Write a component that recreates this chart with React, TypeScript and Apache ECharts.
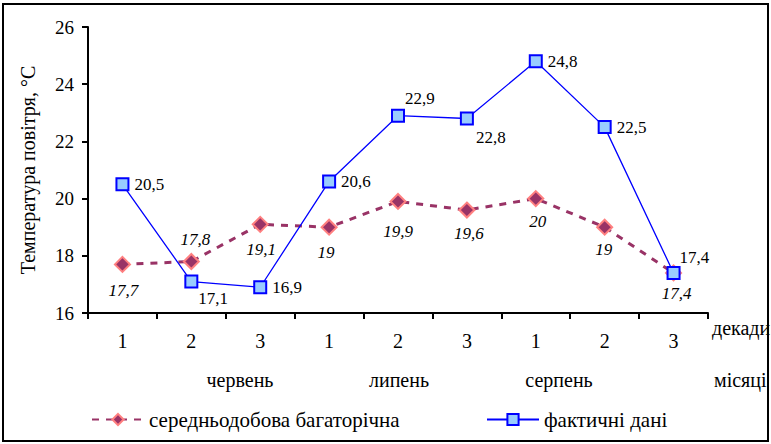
import React, { useEffect, useRef } from "react";
import * as echarts from "echarts";

const decades = ["1", "2", "3", "1", "2", "3", "1", "2", "3"];
const months = ["червень", "липень", "серпень"];
const averageValues = [17.7, 17.8, 19.1, 19, 19.9, 19.6, 20, 19, 17.4];
const actualValues = [20.5, 17.1, 16.9, 20.6, 22.9, 22.8, 24.8, 22.5, 17.4];
const yTicks = { min: 16, max: 26, interval: 2 };
const seriesNames = ["середньодобова багаторічна", "фактичні дані"];

const FONT = "'Liberation Serif', 'DejaVu Serif', 'Times New Roman', serif";
const fmt = (v: number) => String(v).replace(".", ",");

// label placement (style only)
const actualLabelStyle: any[] = [
  { position: "right", offset: [0, 0] },
  { position: "right", offset: [-5, 17] },
  { position: "right", offset: [0, 0] },
  { position: "right", offset: [0, 0] },
  { position: "right", offset: [-5, -17] },
  { position: "right", offset: [-3, 19] },
  { position: "right", offset: [0, 0] },
  { position: "right", offset: [0, 0] },
  { position: "right", offset: [-6, -15] },
];
const averageLabelStyle: any[] = [
  { position: "bottom", offset: [1, 4] },
  { position: "top", offset: [4, 0] },
  { position: "bottom", offset: [1, 3] },
  { position: "bottom", offset: [-3, 3] },
  { position: "bottom", offset: [0, 8] },
  { position: "bottom", offset: [2, 1] },
  { position: "bottom", offset: [2, 1] },
  { position: "bottom", offset: [-1, 0] },
  { position: "bottom", offset: [3, -1] },
];
const monthX = [240, 399, 559];

export default function App() {
  const ref = useRef<HTMLDivElement>(null);
  useEffect(() => {
    if (!ref.current) return;
    const chart = echarts.init(ref.current, null, { renderer: "svg" });
    const option: any = {
      animation: false,
      backgroundColor: "#ffffff",
      textStyle: { fontFamily: FONT, color: "#000" },
      grid: { left: 88, right: 63, top: 27, bottom: 131 },
      xAxis: {
        type: "category",
        data: decades,
        boundaryGap: true,
        axisLine: { lineStyle: { color: "#000", width: 2 } },
        axisTick: { show: true, length: 6, lineStyle: { color: "#000", width: 2 } },
        axisLabel: { fontFamily: FONT, fontSize: 20, color: "#000", margin: 18 },
        splitLine: { show: false },
      },
      yAxis: {
        type: "value",
        min: yTicks.min,
        max: yTicks.max,
        interval: yTicks.interval,
        name: "Температура повітря, °С",
        nameLocation: "middle",
        nameGap: 50,
        nameTextStyle: { fontFamily: FONT, fontSize: 20, color: "#000" },
        axisLine: { show: true, lineStyle: { color: "#000", width: 2 } },
        axisTick: { show: true, length: 6, lineStyle: { color: "#000", width: 2 } },
        axisLabel: { fontFamily: FONT, fontSize: 19, color: "#000", margin: 14 },
        splitLine: { show: false },
      },
      legend: [
        {
          data: [seriesNames[0]],
          left: 86,
          top: 404,
          itemWidth: 52,
          itemHeight: 14,
          itemGap: 6,
          textStyle: { fontFamily: FONT, fontSize: 21, color: "#000" },
        },
        {
          data: [seriesNames[1]],
          left: 481,
          top: 404,
          itemWidth: 52,
          itemHeight: 14,
          itemGap: 6,
          textStyle: { fontFamily: FONT, fontSize: 21, color: "#000" },
        },
      ],
      graphic: [
        {
          type: "rect",
          shape: { x: 3, y: 4, width: 765, height: 437 },
          style: { fill: "none", stroke: "#000", lineWidth: 2 },
          silent: true,
        },
        ...months.map((m, i) => ({
          type: "text",
          x: monthX[i],
          y: 380,
          style: {
            text: m,
            fontFamily: FONT,
            fontSize: 20,
            fill: "#000",
            textAlign: "center",
            textVerticalAlign: "middle",
          },
        })),
        {
          type: "text",
          x: 712,
          y: 328,
          style: { text: "декади", fontFamily: FONT, fontSize: 20, fill: "#000", textVerticalAlign: "middle" },
        },
        {
          type: "text",
          x: 714,
          y: 380,
          style: { text: "місяці", fontFamily: FONT, fontSize: 20, fill: "#000", textVerticalAlign: "middle" },
        },
      ],
      series: [
        {
          name: seriesNames[0],
          type: "line",
          data: averageValues.map((v, i) => ({ value: v, label: averageLabelStyle[i] })),
          symbol: "diamond",
          symbolSize: 15,
          lineStyle: { color: "#993366", width: 3, type: [7, 7] },
          itemStyle: { color: "#993366", borderColor: "#ff8080", borderWidth: 2 },
          label: {
            show: true,
            fontFamily: FONT,
            fontSize: 17,
            fontStyle: "italic",
            color: "#000",
            formatter: (p: any) => fmt(p.value),
          },
          z: 2,
        },
        {
          name: seriesNames[1],
          type: "line",
          data: actualValues.map((v, i) => ({ value: v, label: actualLabelStyle[i] })),
          symbol: "rect",
          symbolSize: 12,
          lineStyle: { color: "#0000ff", width: 1.3 },
          itemStyle: { color: "#99ccff", borderColor: "#0000ff", borderWidth: 2 },
          label: {
            show: true,
            fontFamily: FONT,
            fontSize: 17,
            color: "#000",
            formatter: (p: any) => fmt(p.value),
          },
          z: 3,
        },
      ],
    };
    chart.setOption(option);
    return () => chart.dispose();
  }, []);
  return (
    <div
      ref={ref}
      style={{ position: "fixed", left: 0, top: 0, width: 771, height: 444 }}
    />
  );
}
